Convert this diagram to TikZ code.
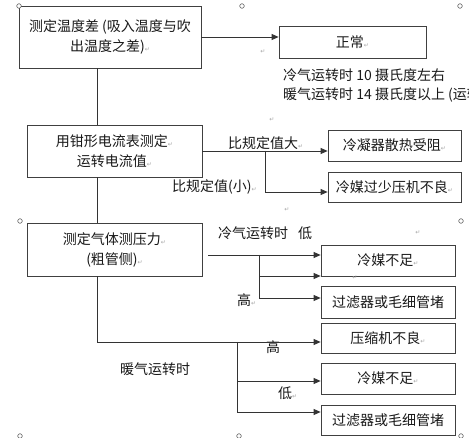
\documentclass[tikz,border=0pt]{standalone}
\usepackage{fontspec}
\setmainfont{Noto Sans CJK SC}
\newfontfamily\dejavu{DejaVu Sans}
\usetikzlibrary{arrows.meta}
\newcommand\retmark{{\dejavu\fontsize{6}{6}\selectfont\color{black!35}↵}}
\tikzset{
  box/.style={draw=black!75, line width=0.8pt, inner sep=0pt, align=center,
    font=\fontsize{14}{20}\selectfont, text=black!90},
  lbl/.style={inner sep=0pt, anchor=west, font=\fontsize{14}{16}\selectfont, text=black!90},
  conn/.style={draw=black!80, line width=0.8pt},
  arr/.style={conn, -{Triangle[length=7pt,width=6pt]}},
  anchorc/.style={draw=black!70, line width=0.5pt, fill=white},
}
\begin{document}
\begin{tikzpicture}[x=1pt,y=-1pt]
\useasboundingbox (0,0) rectangle (469,438);
\clip (0,0) rectangle (469,438);
\fill[white] (0,0) rectangle (469,438);

% main boxes
\node[box, minimum width=182pt, minimum height=62pt] (b1) at (110,37)
  {测定温度差 (吸入温度与吹\\出温度之差)\retmark};
\node[box, minimum width=175pt, minimum height=52pt] (b2) at (114.5,151)
  {用钳形电流表测定\retmark\\运转电流值\retmark};
\node[box, minimum width=175pt, minimum height=53pt] (b3) at (114.5,249.5)
  {测定气体测压力\retmark\\(粗管侧)\retmark};

% result boxes
\node[box, minimum width=147pt, minimum height=32pt] (ok) at (352.5,42) {正常\retmark};
\node[box, minimum width=133pt, minimum height=31pt] (r1) at (394.5,145.5) {冷凝器散热受阻\retmark};
\node[box, minimum width=133pt, minimum height=30pt] (r2) at (394.5,187) {冷媒过少压机不良\retmark};
\node[box, minimum width=134pt, minimum height=31pt] (c1) at (388,260.5) {冷媒不足\retmark};
\node[box, minimum width=134pt, minimum height=32pt] (c2) at (388,302) {过滤器或毛细管堵};
\node[box, minimum width=134pt, minimum height=30pt] (h1) at (388,338) {压缩机不良\retmark};
\node[box, minimum width=134pt, minimum height=31pt] (h2) at (388,378.5) {冷媒不足\retmark};
\node[box, minimum width=134pt, minimum height=30pt] (h3) at (388,420) {过滤器或毛细管堵};

% labels
\node[lbl] (t1) at (283,75) {冷气运转时 10 摄氏度左右};
\node[lbl] (t2) at (283,95) {暖气运转时 14 摄氏度以上 (运转};
\node[lbl] (l1) at (228,143) {比规定值大\retmark};
\node[lbl] (l2) at (172,187) {比规定值(小)\retmark};
\node[lbl] (l3) at (218,233) {冷气运转时\hspace{10pt}低};
\node[lbl] (l4) at (237,300) {高\retmark};
\node[lbl] (l5) at (266,347) {高};
\node[lbl] (l6) at (278,393) {低\retmark};
\node[lbl] (l7) at (120,369) {暖气运转时};

% junction coordinates
\coordinate (v) at (97,0);
\coordinate (j2) at (265,151);
\coordinate (j2b) at (265,192);
\coordinate (s3) at (208,255);
\coordinate (j3) at (259,255);
\coordinate (j3a) at (259,276);
\coordinate (j3b) at (259,298);
\coordinate (hc) at (97,342);
\coordinate (j4) at (237,342);
\coordinate (j4a) at (237,381);
\coordinate (j4b) at (237,412);

% connectors
\draw[arr] (b1.east |- 0,37) -- (ok.west |- 0,37);
\draw[conn] (b1.south -| v) -- (b2.north -| v);
\draw[conn] (b2.south -| v) -- (b3.north -| v);
\draw[arr] (b2.east) -- (b2.east -| r1.west);
\draw[arr] (j2) -- (j2b) -- (j2b -| r2.west);
\draw[arr] (s3) -- (s3 -| c1.west);
\draw[conn] (j3) -- (j3b);
\draw[arr] (j3a) -- (j3a -| c1.west);
\draw[arr] (j3b) -- (j3b -| c2.west);
\draw[arr] (b3.south -| v) -- (hc) -- (hc -| h1.west);
\draw[conn] (j4) -- (j4b);
\draw[arr] (j4a) -- (j4a -| h2.west);
\draw[arr] (j4b) -- (j4b -| h3.west);

% stray paragraph marks
\node[inner sep=0pt] at (263,52) {\retmark};
\node[inner sep=0pt] at (272,120) {\retmark};
\node[inner sep=0pt] at (287,210) {\retmark};
\node[inner sep=0pt] at (418,233) {\retmark};
\node[inner sep=0pt] at (355,278) {\retmark};

% text-box anchor circles
\foreach \p in {(19,6),(242,6),(460,6),(20,221),(461,221),(20,436),(239,436),(461,436)}
  \draw[anchorc] \p circle (2.3pt);
\end{tikzpicture}
\end{document}
